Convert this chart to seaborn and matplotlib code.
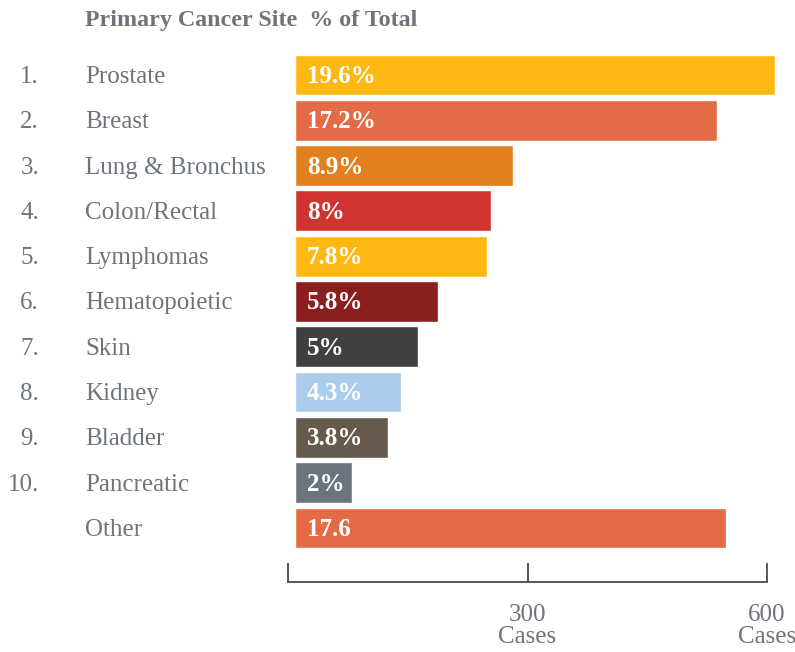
import matplotlib
matplotlib.use('Agg')
import matplotlib.pyplot as plt
import matplotlib.transforms as mtransforms
import seaborn as sns
import pandas as pd

sites = ['Prostate', 'Breast', 'Lung & Bronchus', 'Colon/Rectal', 'Lymphomas',
         'Hematopoietic', 'Skin', 'Kidney', 'Bladder', 'Pancreatic', 'Other']
ranks = ['1.', '2.', '3.', '4.', '5.', '6.', '7.', '8.', '9.', '10.', '']
cases = [601, 529, 273, 246, 240, 179, 154, 133, 116, 71, 540]
pct_labels = ['19.6%', '17.2%', '8.9%', '8%', '7.8%', '5.8%', '5%', '4.3%', '3.8%', '2%', '17.6']
colors = ['#FDB813', '#E36C47', '#E2801E', '#D03431', '#FDB813', '#8B1F1D',
          '#404040', '#ABCDEC', '#665A4D', '#6B737C', '#E36C47']
axis_ticks = [0, 300, 600]
axis_labels = ['', '300\nCases', '600\nCases']

grey = '#6D747C'
sns.set_style('white')
plt.rcParams['font.family'] = ['Liberation Serif', 'DejaVu Serif']

df = pd.DataFrame({'site': sites, 'cases': cases})

fig = plt.figure(figsize=(7.95, 6.52), dpi=100)
W, H = 795, 652
ax = fig.add_axes([295 / W, (H - 550.6) / H, 485 / W, 498.3 / H])
sns.barplot(data=df, x='cases', y='site', hue='site', palette=colors, width=0.9,
            legend=False, ax=ax, saturation=1, orient='h')
ax.set_xlim(0, 485 / 0.7983)
ax.set_ylim(10.5, -0.5)
ax.axis('off')

trans = mtransforms.blended_transform_factory(fig.transFigure, ax.transData)
fs = 18
for i, (r, s, lab) in enumerate(zip(ranks, sites, pct_labels)):
    ax.annotate(r, xy=(39 / W, i), xycoords=trans, xytext=(0, -8), textcoords='offset pixels',
                ha='right', va='baseline', fontsize=fs, color=grey)
    ax.annotate(s, xy=(85 / W, i), xycoords=trans, xytext=(0, -8), textcoords='offset pixels',
                ha='left', va='baseline', fontsize=fs, color=grey)
    ax.annotate(lab, xy=(0, i), xytext=(12, -8), textcoords='offset pixels',
                ha='left', va='baseline', fontsize=fs, color='white', fontweight='bold')

fig.text(85 / W, 1 - 26 / H, 'Primary Cancer Site  % of Total', ha='left', va='baseline',
         fontsize=17.3, color=grey, fontweight='bold')

# scale axis below the bars
ax2 = fig.add_axes([288 / W, (H - 582) / H, 479 / W, 0.001])
ax2.set_xlim(0, 600)
for sp in ['top', 'left', 'right']:
    ax2.spines[sp].set_visible(False)
ax2.spines['bottom'].set_color('#4a4a4a')
ax2.spines['bottom'].set_linewidth(1.3)
ax2.set_yticks([])
ax2.set_xticks(axis_ticks)
ax2.set_xticklabels(axis_labels, fontsize=18, color=grey, linespacing=1.0)
ax2.tick_params(axis='x', bottom=True, direction='in', length=14, width=1.3,
                color='#4a4a4a', pad=16)
ax2.patch.set_alpha(0)

fig.savefig('out.png', dpi=100)
